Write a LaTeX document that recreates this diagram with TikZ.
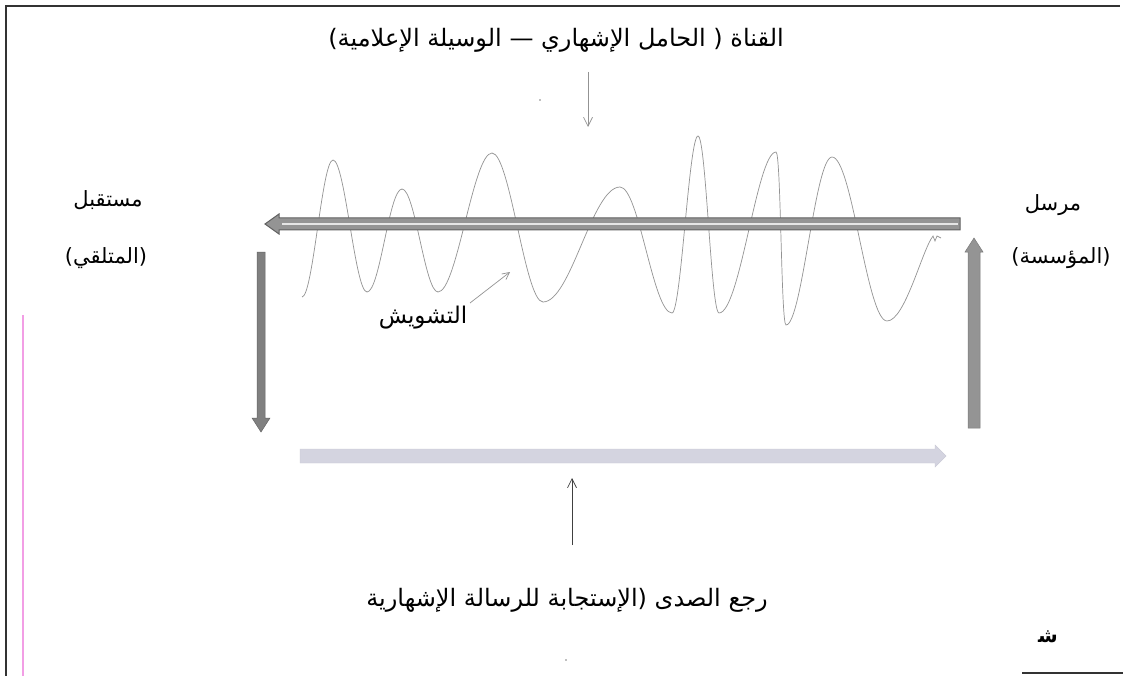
\documentclass[tikz,border=0pt]{standalone}
\usepackage{fontspec}
\usetikzlibrary{arrows.meta}
\TeXXeTstate=1
\newfontfamily\arabicfont[Script=Arabic]{DejaVu Sans}
\definecolor{feedback}{rgb}{0.83,0.83,0.88}
\definecolor{pinkline}{rgb}{0.95,0.62,0.90}
\begin{document}
\begin{tikzpicture}[x=1pt,y=-1pt,
  lab/.style={font=\arabicfont\fontsize{21}{24}\selectfont, inner sep=0pt},
  biglab/.style={font=\arabicfont\fontsize{24}{28}\selectfont, inner sep=0pt},
  thinarrow/.style={-{Straight Barb[length=9pt,width=9pt]}, line width=0.7pt, draw=gray!85},
  wave/.style={draw=gray!85, line width=0.7pt},
  frameline/.style={draw=black!80, line width=1.5pt},
  blockmain/.style={fill=black!42, draw=black!62, line width=1pt},
  blockleft/.style={fill=black!50, draw=black!60, line width=0.5pt},
  blockright/.style={fill=black!42, draw=black!52, line width=0.5pt},
  blockfeed/.style={fill=feedback, draw=feedback!90!gray, line width=0.4pt}]
\useasboundingbox (0,0) rectangle (1123,676);
\fill[white] (0,0) rectangle (1123,676);
% frame
\draw[frameline] (6,676) -- (6,6) -- (1120,6);
\draw[frameline] (1022,673) -- (1123,673);
\draw[pinkline, line width=1.2pt] (23,315) -- (23,676);
% labels
\node[biglab] (canal) at (556,40) {\arabicfont\beginR القناة ( الحامل الإشهاري — الوسيلة الإعلامية)\endR};
\node[lab] (recv1) at (108,200) {\arabicfont\beginR مستقبل\endR};
\node[lab] (recv2) at (106,258) {\arabicfont\beginR (المتلقي)\endR};
\node[lab] (send1) at (1053,205) {\arabicfont\beginR مرسل\endR};
\node[lab] (send2) at (1061,258) {\arabicfont\beginR (المؤسسة)\endR};
\node[font=\arabicfont\fontsize{23}{26}\selectfont, inner sep=0pt] (noise) at (423,318) {\arabicfont\beginR التشويش\endR};
\node[biglab] (echo) at (567,600) {\arabicfont\beginR رجع الصدى (الإستجابة للرسالة الإشهارية\endR};
\node[lab, font=\arabicfont\bfseries\fontsize{20}{22}\selectfont] (mark) at (1048,637) {\arabicfont ﺷ};
% stray dots
\fill[gray] (540,100) circle (0.9);
\fill[gray] (566,660) circle (0.9);
% coordinates
\coordinate (ctop) at (588,72);
\coordinate (cbot) at (588,127);
\coordinate (ebot) at (572,545);
\coordinate (etop) at (572,478);
\coordinate (ns) at (470,303);
\coordinate (ne) at (510,272);
% wave
\draw[wave] (302,297)
  .. controls (313,297) and (322,160) .. (333,160)
  .. controls (345,160) and (355,292) .. (367,292)
  .. controls (380,292) and (389,189) .. (402,189)
  .. controls (415,189) and (425,292) .. (438,292)
  .. controls (457,292) and (473,153) .. (492,153)
  .. controls (510,153) and (525,302) .. (543,302)
  .. controls (571,302) and (592,187) .. (620,187)
  .. controls (639,187) and (653,313) .. (672,313)
  .. controls (681,313) and (689,136) .. (698,136)
  .. controls (706,136) and (711,313) .. (719,313)
  .. controls (740,313) and (757,152) .. (776,152)
  .. controls (781,152) and (781,325) .. (786,325)
  .. controls (802,325) and (815,157) .. (832,157)
  .. controls (852,157) and (867,321) .. (887,321)
  .. controls (905,321) and (922,250) .. (933,236)
  -- (935,241) -- (937,236) -- (941,238);
% main channel arrow (right to left)
\draw[blockmain] (960,218) -- (279,218) -- (279,214) -- (265,224) -- (279,234) -- (279,230) -- (960,230) -- cycle;
\draw[white!80!gray, line width=1.4pt] (282,224) -- (958,224);
% left down arrow
\draw[blockleft] (257,252) -- (265,252) -- (265,418) -- (270,418) -- (261,432) -- (252,418) -- (257,418) -- cycle;
% right up arrow
\draw[blockright] (968,428) -- (980,428) -- (980,252) -- (983,252) -- (974,238) -- (965,252) -- (968,252) -- cycle;
% feedback arrow
\draw[blockfeed] (300,449) -- (935,449) -- (935,445) -- (946,456) -- (935,467) -- (935,463) -- (300,463) -- cycle;
% thin arrows
\draw[thinarrow] (ctop) -- (cbot);
\draw[thinarrow, draw=black!75] (ebot) -- (etop);
\draw[thinarrow, -{Straight Barb[length=7pt,width=7pt]}] (ns) -- (ne);
\end{tikzpicture}
\end{document}
